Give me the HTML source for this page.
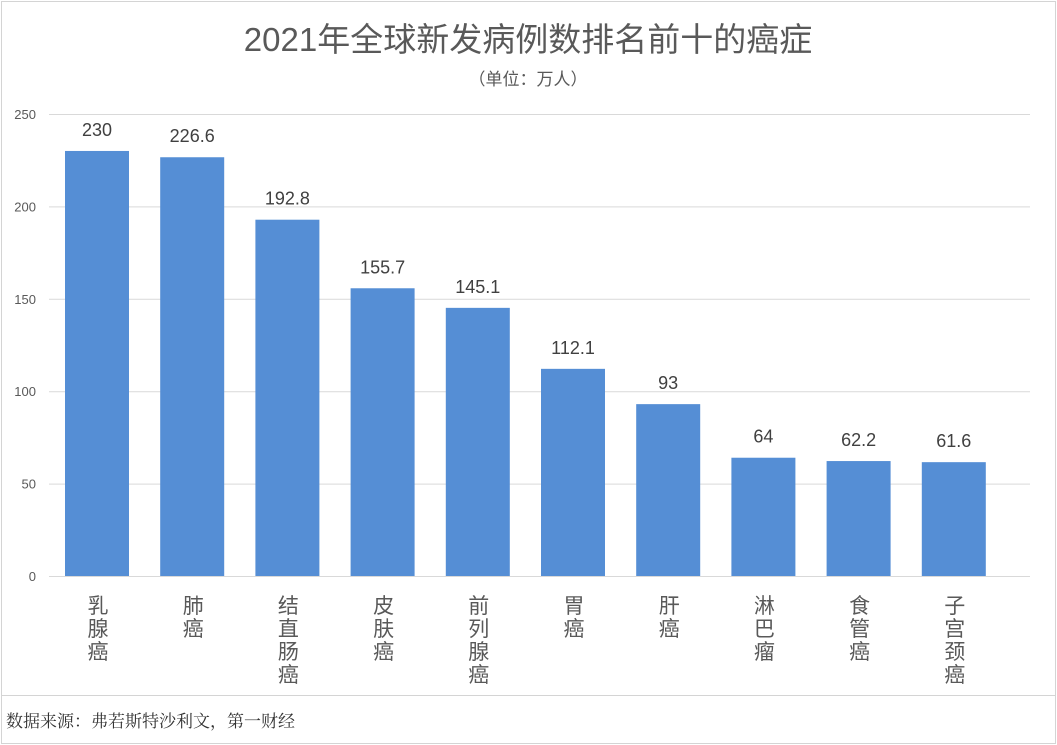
<!DOCTYPE html>
<html><head><meta charset="utf-8"><style>
body{margin:0;background:#fff;width:1057px;height:745px;overflow:hidden;font-family:"Liberation Sans","Noto Sans CJK SC",sans-serif}
svg{display:block}
</style></head><body>
<svg width="1057" height="745" id="c">
<rect x="1.5" y="1.5" width="1054" height="742" fill="#fff" stroke="#d4d4d4"/>
<line x1="2" y1="695.5" x2="1055" y2="695.5" stroke="#d4d4d4"/>
<text x="528" y="51" text-anchor="middle" font-size="33" fill="#595959" font-family="Liberation Sans,Noto Sans CJK SC,sans-serif">2021年全球新发病例数排名前十的癌症</text>
<text x="528" y="85" text-anchor="middle" font-size="17" fill="#595959" font-family="Liberation Sans,Noto Sans CJK SC,sans-serif">（单位：万人）</text>
<text x="6" y="727" font-size="17" fill="#333" font-family="Liberation Serif,Noto Serif CJK SC,serif">数据来源：弗若斯特沙利文，第一财经</text>
<g id="grid"></g><g id="bars"></g>
</svg>
<script>
const categories=["乳腺癌","肺癌","结直肠癌","皮肤癌","前列腺癌","胃癌","肝癌","淋巴瘤","食管癌","子宫颈癌"];
const values=[230,226.6,192.8,155.7,145.1,112.1,93,64,62.2,61.6];
const ticks=[0,50,100,150,200,250];
const NS="http://www.w3.org/2000/svg";
const y0=576,y1=114,vmax=250,gx0=49,gx1=1030;
const bx0=49.4,bx1=1001.4;
const yS=v=>y0-(v/vmax)*(y0-y1);
const step=(bx1-bx0)/categories.length;
const xC=i=>bx0+step*(i+0.5);
function mk(t,a,p){const e=document.createElementNS(NS,t);for(const k in a)e.setAttribute(k,a[k]);p.appendChild(e);return e;}
const g=document.getElementById('grid'),b=document.getElementById('bars');
ticks.forEach(t=>{
 const l=mk('line',{x1:gx0,x2:gx1,y1:yS(t)+0.5,y2:yS(t)+0.5,stroke:'#d9d9d9'},g);
 
 
 const tx=mk('text',{x:36,y:yS(t)+5,'text-anchor':'end','font-size':13,fill:'#595959'},g);
 tx.textContent=t;
 
 
});
categories.forEach((c,i)=>{
 const w=64,cx=xC(i);
 const r=mk('rect',{x:cx-w/2,y:yS(values[i]),width:w,height:y0-yS(values[i]),fill:'#558ed5'},b);
 
 
 const lb=mk('text',{x:cx,y:yS(values[i])-15,'text-anchor':'middle','font-size':18,fill:'#404040'},b);
 lb.textContent=values[i];
 
 
 const ct=mk('text',{x:cx+1,'text-anchor':'middle','font-size':21,fill:'#595959'},b);
 
 
 [...c].forEach((ch,j)=>{const s=mk('tspan',{x:cx+1,y:613+j*23},ct);s.textContent=ch;});
});
</script>
</body></html>
